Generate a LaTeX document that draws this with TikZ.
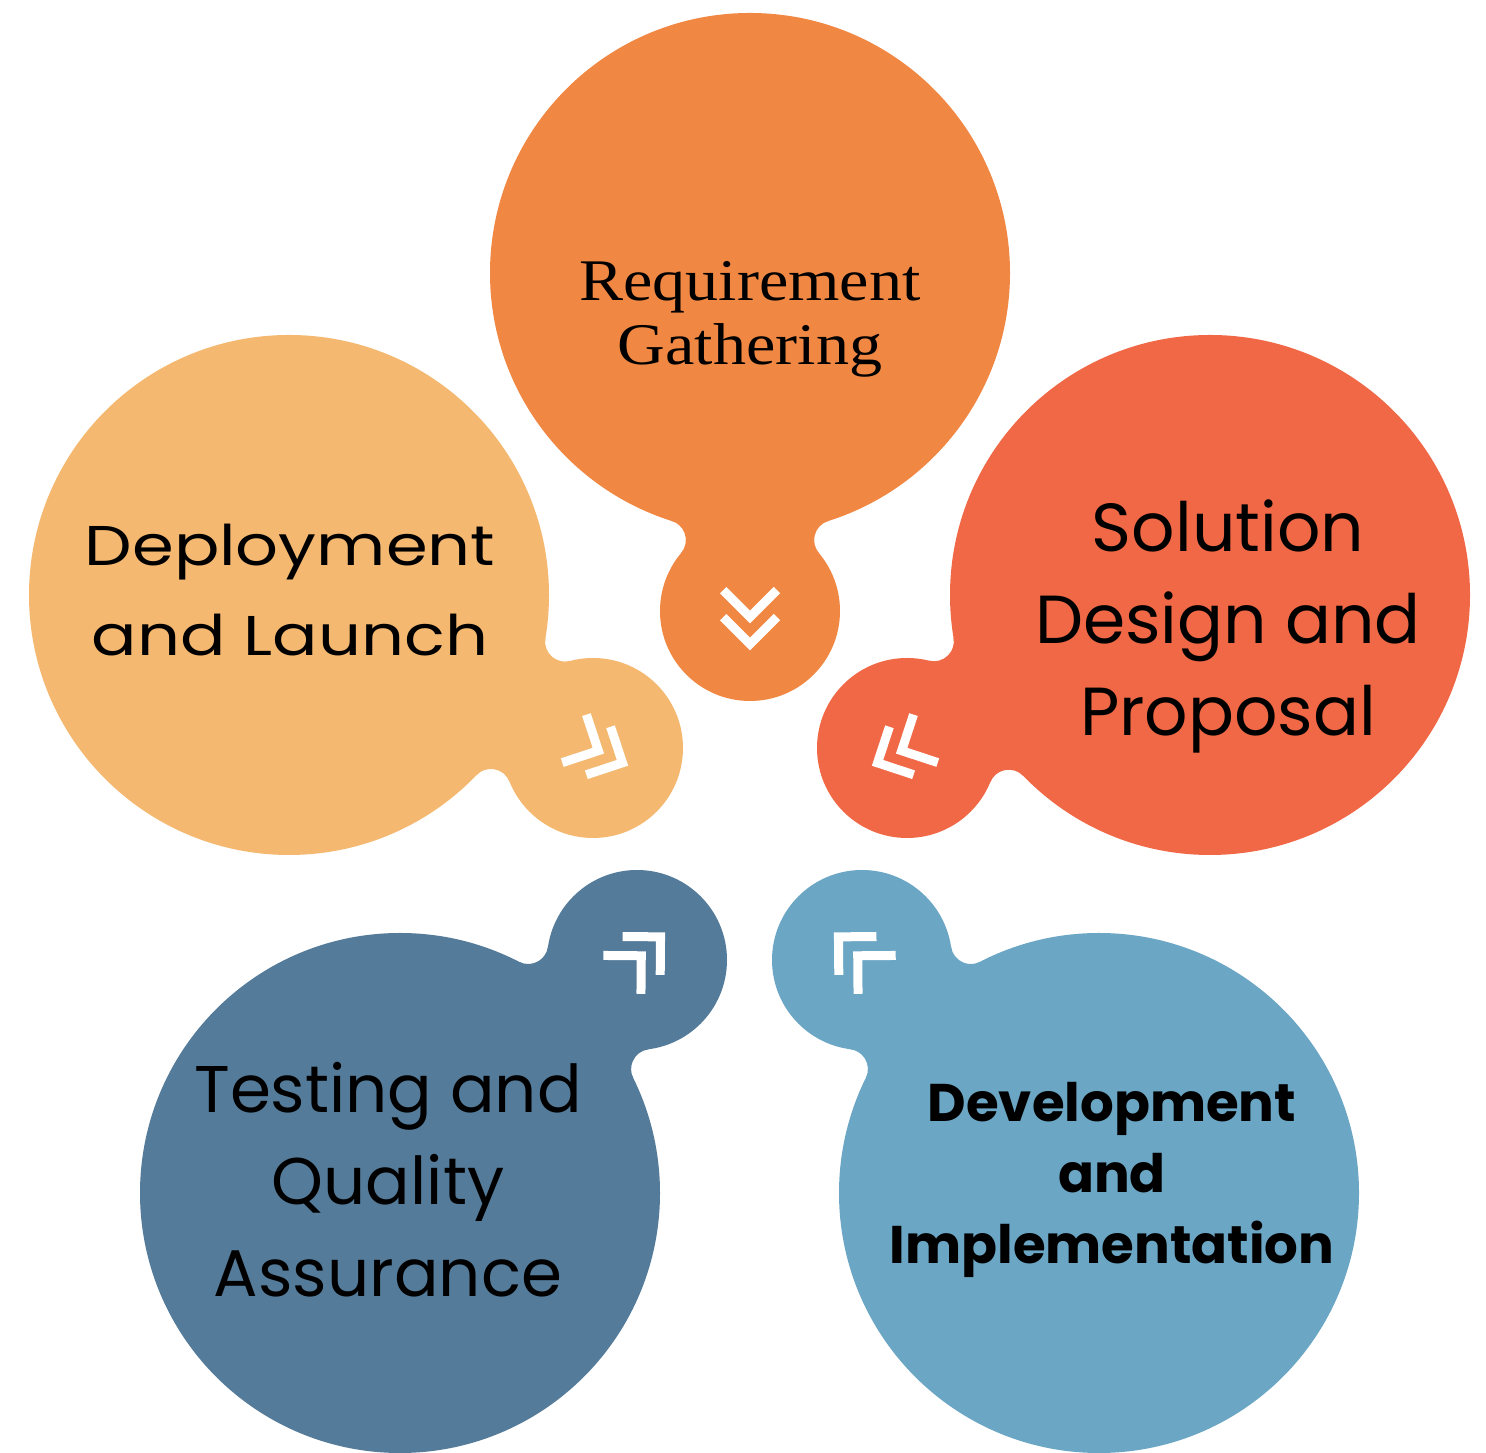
\documentclass[tikz,border=0pt]{standalone}
\usepackage{fontspec}
\newfontfamily\stagefont{Poppins}
\newfontfamily\widefont{Poppins}[FakeStretch=1.2]
\newfontfamily\gatherfont{Liberation Serif}[FakeStretch=1.12]
\usetikzlibrary{calc}
\definecolor{reqc}{HTML}{F08743}
\definecolor{solc}{HTML}{F06845}
\definecolor{devc}{HTML}{6BA6C5}
\definecolor{tstc}{HTML}{547B99}
\definecolor{depc}{HTML}{F4B870}
\newcommand{\neck}[3]{%
  \pgfpointdiff{\pgfpointanchor{#1}{center}}{\pgfpointanchor{#2}{center}}%
  \pgfgetlastxy{\neckvx}{\neckvy}%
  \pgfmathsetmacro\neckd{veclen(\neckvx,\neckvy)}%
  \pgfmathsetmacro\neckrot{atan2(\neckvy,\neckvx)}%
  \pgfmathsetmacro\neckx{(663+(\neckd/10)^2)*(50/\neckd)}%
  \pgfmathsetmacro\necky{10*sqrt(784-(\neckx/10)^2)}%
  \pgfmathsetmacro\angA{atan2(-\necky,-\neckx)}%
  \pgfmathsetmacro\angB{atan2(-\necky,\neckd-\neckx)}%
  \pgfmathsetmacro\angC{-1*(\angB)}%
  \pgfmathsetmacro\angD{-1*(\angA)}%
  \begin{scope}[shift={(#1.center)}, rotate=\neckrot]
    \fill[#3] ({\neckx*13/14},{\necky*13/14}) arc[start angle=\angA, end angle=\angB, radius=20]
      -- (\neckd,0) -- ({\neckd+(\neckx-\neckd)*9/11},{-\necky*9/11})
      arc[start angle=\angC, end angle=\angD, radius=20] -- (0,0) -- cycle;
  \end{scope}}
\newcommand{\chevrons}[2]{%
  \foreach \a in {6pt,33pt}{
    \coordinate (apex) at ($(#2.center)!-\a!(#1.center)$);
    \draw[chevron] ($(apex)!38pt!45:(#1.center)$) -- (apex) -- ($(apex)!38pt!-45:(#1.center)$);
  }}
\begin{document}
\begin{tikzpicture}[x=1pt, y=1pt,
    disc/.style={circle, inner sep=0pt, minimum size=520pt},
    tip/.style={circle, inner sep=0pt, minimum size=180pt},
    chevron/.style={draw=white, line width=9pt},
    stage/.style={align=center, text=black, inner sep=0pt}]
  \useasboundingbox (0,0) rectangle (1486,1453);

  \node[disc, fill=reqc] (req) at (750,1180) {};
  \node[tip, fill=reqc] (reqtip) at (750,842) {};
  \node[disc, fill=solc] (sol) at (1210,858) {};
  \node[tip, fill=solc] (soltip) at (907,705) {};
  \node[disc, fill=devc] (dev) at (1099,260) {};
  \node[tip, fill=devc] (devtip) at (862,493) {};
  \node[disc, fill=tstc] (tst) at (400,260) {};
  \node[tip, fill=tstc] (tsttip) at (637,493) {};
  \node[disc, fill=depc] (dep) at (289,858) {};
  \node[tip, fill=depc] (deptip) at (593,705) {};

  \neck{req}{reqtip}{reqc}
  \neck{sol}{soltip}{solc}
  \neck{dev}{devtip}{devc}
  \neck{tst}{tsttip}{tstc}
  \neck{dep}{deptip}{depc}

  \chevrons{req}{reqtip}
  \chevrons{sol}{soltip}
  \chevrons{dev}{devtip}
  \chevrons{tst}{tsttip}
  \chevrons{dep}{deptip}

  \node[stage, font=\gatherfont\fontsize{59}{64}\selectfont] (reqtext) at (750,1134) {Requirement\\Gathering};
  \node[stage, font=\stagefont\fontsize{68}{92}\selectfont] (soltext) at (1228,827) {Solution\\Design and\\Proposal};
  \node[stage, font=\stagefont\bfseries\fontsize{53}{71}\selectfont] (devtext) at (1112,273) {Development\\and\\Implementation};
  \node[stage, font=\stagefont\fontsize{66}{92}\selectfont] (tsttext) at (388,273) {Testing and\\Quality\\Assurance};
  \node[stage, font=\widefont\fontsize{56}{90}\selectfont] (deptext) at (290,863) {Deployment\\and Launch};
\end{tikzpicture}
\end{document}
